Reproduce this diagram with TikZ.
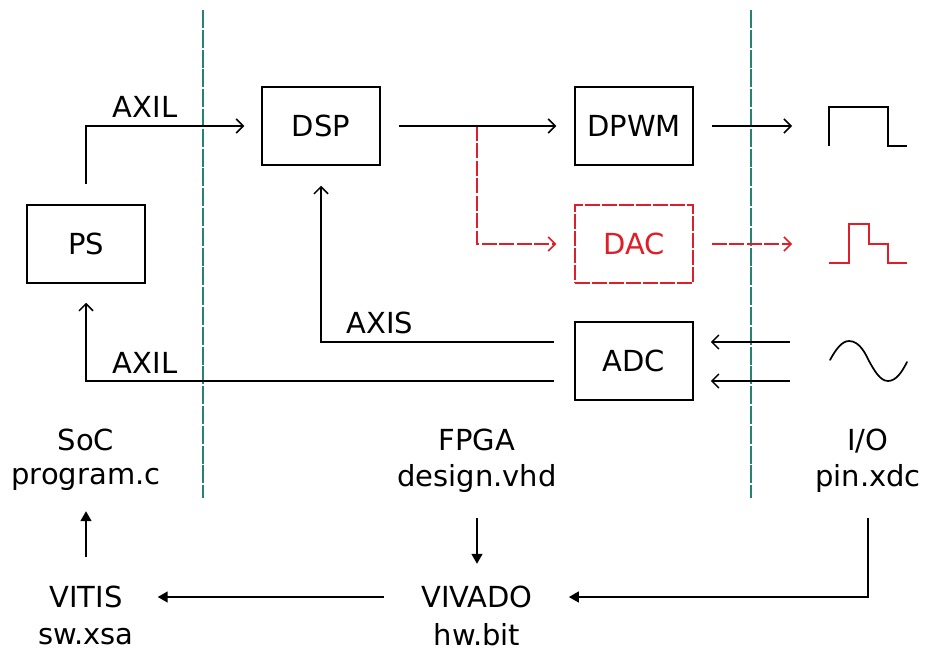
\documentclass[tikz,border=0pt]{standalone}
\usepackage{fontspec}
\setmainfont{DejaVu Sans}
\usetikzlibrary{arrows.meta,calc}
\definecolor{divgreen}{RGB}{40,130,115}
\definecolor{dacred}{RGB}{222,30,40}
\tikzset{
  x=1pt,y=-1pt,
  every node/.style={font=\fontsize{29}{34}\selectfont},
  blockbox/.style={draw,line width=1.5pt,minimum width=118pt,minimum height=78pt,inner sep=0pt},
  dacbox/.style={blockbox,draw=dacred,text=dacred,dash pattern=on 15pt off 2pt},
  txt/.style={inner sep=0pt,anchor=base,text height=20pt,text depth=0pt},
  wire/.style={line width=1.5pt,-{Straight Barb[length=7pt,width=14pt,line width=1.5pt]}},
  redwire/.style={wire,draw=dacred,dash pattern=on 15pt off 2.5pt},
  flow/.style={line width=1.5pt,-{Triangle[length=10pt,width=11pt]}},
  wave/.style={line width=1.7pt},
  divider/.style={draw=divgreen,line width=2pt,dash pattern=on 18pt off 1.8pt}
}
\begin{document}
\begin{tikzpicture}
\useasboundingbox (0,0) rectangle (925,652);
% dividers
\coordinate (d1a) at (203,10); \coordinate (d1b) at (203,498);
\coordinate (d2a) at (751,10); \coordinate (d2b) at (751,498);
\draw[divider] (d1a) -- (d1b);
\draw[divider] (d2a) -- (d2b);
% blocks
\node[blockbox] (ps) at (86,244) {PS};
\node[blockbox] (dsp) at (321,126) {DSP};
\node[blockbox] (dpwm) at (634,126) {DPWM};
\node[dacbox] (dac) at (634,244) {DAC};
\node[blockbox] (adc) at (634,361) {ADC};
% bus labels
\node[txt] (axil1) at (145,118) {AXIL};
\node[txt] (axis) at (380,333) {AXIS};
\node[txt] (axil2) at (145,373) {AXIL};
% text labels
\node[txt] (soc) at (86,450) {SoC};
\node[txt] (prog) at (86,484) {program.c};
\node[txt] (fpga) at (477,450) {FPGA};
\node[txt] (design) at (477,486) {design.vhd};
\node[txt] (io) at (868,450) {I/O};
\node[txt] (pin) at (868,486) {pin.xdc};
\node[txt] (vitis) at (86,607) {VITIS};
\node[txt] (sw) at (86,644) {sw.xsa};
\node[txt] (vivado) at (477,607) {VIVADO};
\node[txt] (hw) at (477,645) {hw.bit};
% free ends at the waveforms
\coordinate (w1) at (792,126);
\coordinate (w2) at (792,244);
\coordinate (w3) at (790,342);
\coordinate (w4) at (790,381);
% waveforms
\draw[wave] (829,146) -- (829,107) -- (888,107) -- (888,146) -- (907,146);
\draw[wave,dacred] (829,263) -- (849,263) -- (849,224) -- (869,224) -- (869,244) -- (888,244) -- (888,263) -- (907,263);
\draw[wave,line cap=round] (830,360) .. controls (836,349) and (842,341) .. (849,341)
  .. controls (860,341) and (866,355) .. (869,361)
  .. controls (874,370) and (880,381) .. (888,381)
  .. controls (896,381) and (902,372) .. (907,362);
% connectors
\coordinate (branch) at (477,126);
\draw[wire,shorten <=20pt,shorten >=17pt] (ps.north) |- (dsp.west);
\draw[redwire,shorten >=18pt] (branch) |- (dac.west);
\draw[wire,shorten <=18pt,shorten >=18pt] (dsp.east) -- (dpwm.west);
\draw[wire,shorten <=18pt] (dpwm.east) -- (w1);
\draw[redwire,shorten <=18pt] (dac.east) -- (w2);
\draw[wire,shorten <=20pt,shorten >=20pt] (adc.west |- w3) -| (dsp.south);
\draw[wire,shorten <=20pt,shorten >=19pt] (adc.west |- w4) -| (ps.south);
\draw[wire,shorten >=17pt] (w3) -- (adc.east |- w3);
\draw[wire,shorten >=17pt] (w4) -- (adc.east |- w4);
% tool flow
\draw[flow,shorten <=30pt,shorten >=27pt] (vitis.north) -- (prog.south);
\draw[flow,shorten <=32pt,shorten >=23pt] (design.south) -- (vivado.north);
\draw[flow,shorten <=37pt,shorten >=35pt] (vivado.west) -- (vitis.east);
\draw[flow,shorten <=32pt,shorten >=36pt] (pin.south) |- (vivado.east);
\end{tikzpicture}
\end{document}
